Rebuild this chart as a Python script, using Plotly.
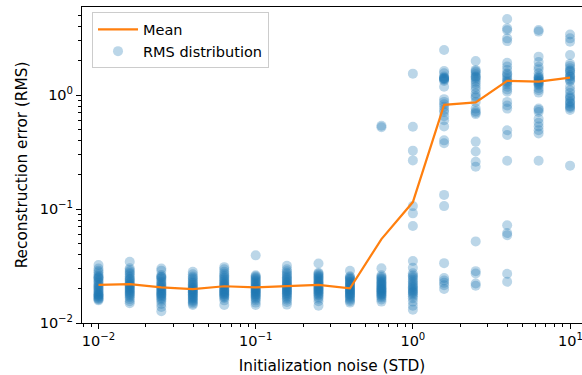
import plotly.graph_objects as go

# Initialization noise levels (standard deviation of the initial guess)
noise_std = [0.01, 0.0158, 0.0251, 0.0398, 0.0631, 0.1, 0.158, 0.251,
             0.398, 0.631, 1.0, 1.58, 2.51, 3.98, 6.31, 10.0]

# Mean reconstruction error at each noise level
mean_rms = [0.0216, 0.0219, 0.0205, 0.0198, 0.0210, 0.0205, 0.0211, 0.0216,
            0.0201, 0.0545, 0.115, 0.82, 0.86, 1.33, 1.31, 1.42]

# Per-run RMS errors, one list per noise level
rms_runs = [
    [0.0322, 0.0301, 0.0287, 0.0279, 0.0266, 0.0258, 0.0252, 0.0249, 0.0246, 0.0238,
     0.0231, 0.0226, 0.0219, 0.0214, 0.0209, 0.0205, 0.0201, 0.0196, 0.0191, 0.0187,
     0.0183, 0.0179, 0.0177, 0.0175, 0.0172, 0.0169, 0.0166, 0.0163, 0.0161, 0.0158],
    [0.0345, 0.0302, 0.0291, 0.0283, 0.0275, 0.0268, 0.0257, 0.0249, 0.0243, 0.0239,
     0.0233, 0.0228, 0.0222, 0.0218, 0.0214, 0.0211, 0.0207, 0.0203, 0.0199, 0.0196,
     0.0192, 0.0188, 0.0184, 0.0181, 0.0177, 0.0173, 0.0168, 0.0162, 0.0155, 0.0149],
    [0.0301, 0.0288, 0.0264, 0.0256, 0.0253, 0.0249, 0.0244, 0.0236, 0.0229, 0.0222,
     0.0217, 0.0212, 0.0208, 0.0204, 0.0201, 0.0197, 0.0193, 0.0189, 0.0186, 0.0182,
     0.0179, 0.0176, 0.0173, 0.0169, 0.0165, 0.0161, 0.0155, 0.0147, 0.0138, 0.0127],
    [0.0281, 0.0268, 0.0256, 0.0249, 0.0243, 0.0236, 0.0229, 0.0224, 0.0219, 0.0214,
     0.0209, 0.0205, 0.0202, 0.0198, 0.0195, 0.0192, 0.0189, 0.0186, 0.0183, 0.0179,
     0.0176, 0.0173, 0.0169, 0.0166, 0.0163, 0.0159, 0.0156, 0.0152, 0.0148, 0.0144],
    [0.0309, 0.0296, 0.0282, 0.0271, 0.0263, 0.0256, 0.0249, 0.0243, 0.0237, 0.0231,
     0.0226, 0.0221, 0.0217, 0.0213, 0.0209, 0.0205, 0.0201, 0.0197, 0.0194, 0.0191,
     0.0188, 0.0185, 0.0182, 0.0179, 0.0176, 0.0173, 0.0169, 0.0166, 0.0158, 0.0144],
    [0.0392, 0.0262, 0.0257, 0.0252, 0.0247, 0.0242, 0.0236, 0.0231, 0.0226, 0.0221,
     0.0216, 0.0212, 0.0208, 0.0204, 0.0201, 0.0198, 0.0195, 0.0192, 0.0189, 0.0186,
     0.0183, 0.0180, 0.0177, 0.0174, 0.0171, 0.0167, 0.0163, 0.0158, 0.0151, 0.0144],
    [0.0318, 0.0296, 0.0284, 0.0275, 0.0267, 0.0259, 0.0252, 0.0246, 0.0240, 0.0234,
     0.0229, 0.0224, 0.0219, 0.0215, 0.0211, 0.0207, 0.0203, 0.0199, 0.0196, 0.0192,
     0.0189, 0.0185, 0.0182, 0.0178, 0.0174, 0.0170, 0.0165, 0.0160, 0.0153, 0.0145],
    [0.0333, 0.0276, 0.0271, 0.0265, 0.0259, 0.0254, 0.0249, 0.0244, 0.0239, 0.0234,
     0.0229, 0.0225, 0.0221, 0.0217, 0.0213, 0.0209, 0.0206, 0.0202, 0.0199, 0.0196,
     0.0192, 0.0189, 0.0186, 0.0182, 0.0178, 0.0174, 0.0169, 0.0163, 0.0155, 0.0142],
    [0.0287, 0.0257, 0.0252, 0.0247, 0.0243, 0.0239, 0.0234, 0.0229, 0.0225, 0.0221,
     0.0217, 0.0213, 0.0209, 0.0206, 0.0202, 0.0199, 0.0196, 0.0193, 0.0190, 0.0187,
     0.0184, 0.0181, 0.0178, 0.0175, 0.0172, 0.0168, 0.0164, 0.0160, 0.0155, 0.0151],
    [0.538, 0.522, 0.0302, 0.0262, 0.0255, 0.0249, 0.0244, 0.0239, 0.0234, 0.0229,
     0.0225, 0.0221, 0.0217, 0.0213, 0.0209, 0.0205, 0.0202, 0.0199, 0.0196, 0.0193,
     0.0190, 0.0187, 0.0184, 0.0181, 0.0178, 0.0175, 0.0171, 0.0167, 0.0161, 0.0154],
    [1.54, 0.527, 0.325, 0.267, 0.106, 0.0916, 0.071, 0.035, 0.0305, 0.0273,
     0.0262, 0.0256, 0.0248, 0.0239, 0.0231, 0.0224, 0.0217, 0.0211, 0.0206, 0.0201,
     0.0196, 0.0191, 0.0187, 0.0183, 0.0178, 0.0172, 0.0165, 0.0154, 0.0142, 0.0131],
    [2.48, 1.62, 1.55, 1.45, 1.41, 1.38, 1.36, 1.33, 1.18, 0.92,
     0.87, 0.83, 0.79, 0.74, 0.71, 0.65, 0.60, 0.53, 0.40, 0.377,
     0.133, 0.106, 0.0335, 0.0248, 0.0236, 0.0225, 0.0214, 0.0199, 1.42, 1.39],
    [1.99, 1.66, 1.62, 1.58, 1.52, 1.46, 1.44, 1.41, 1.36, 1.31,
     1.25, 1.18, 1.12, 1.03, 0.98, 0.95, 0.87, 0.76, 0.72, 0.70,
     0.68, 0.39, 0.32, 0.26, 0.235, 0.052, 0.0285, 0.0272, 0.0222, 0.0212],
    [4.64, 3.84, 3.70, 3.14, 2.97, 1.92, 1.78, 1.66, 1.55, 1.52,
     1.47, 1.40, 1.35, 1.31, 1.29, 1.24, 1.18, 1.12, 1.07, 0.87,
     0.81, 0.76, 0.49, 0.446, 0.265, 0.072, 0.0615, 0.059, 0.027, 0.023],
    [3.72, 3.60, 2.17, 1.95, 1.77, 1.68, 1.55, 1.47, 1.43, 1.41,
     1.38, 1.36, 1.33, 1.31, 1.28, 1.26, 1.24, 1.21, 1.15, 1.10,
     1.05, 0.76, 0.74, 0.71, 0.62, 0.57, 0.53, 0.49, 0.46, 0.265],
    [3.40, 3.14, 2.93, 2.24, 1.88, 1.80, 1.72, 1.65, 1.62, 1.58,
     1.50, 1.46, 1.44, 1.38, 1.35, 1.32, 1.18, 1.10, 1.04, 0.98,
     0.95, 0.93, 0.88, 0.86, 0.84, 0.80, 0.79, 0.77, 0.74, 0.24],
]

x_ticks = [0.01, 0.1, 1]
x_ticktext = ["10<sup>−2</sup>", "10<sup>−1</sup>", "10<sup>0</sup>"]
# the last decade label runs past the right edge of the figure
x_edge_tick = 10
x_edge_ticktext = "10<sup>1</sup>"
y_ticks = [0.01, 0.1, 1]
y_ticktext = ["10<sup>−2</sup>", "10<sup>−1</sup>", "10<sup>0</sup>"]

x_minor = [m * 10 ** e for e in (-3, -2, -1, 0) for m in range(2, 10)]
y_minor = [m * 10 ** e for e in (-2, -1, 0) for m in range(2, 10)]

scatter_x = [s for s, runs in zip(noise_std, rms_runs) for _ in runs]
scatter_y = [v for runs in rms_runs for v in runs]

FONT = "DejaVu Sans"
BLUE = "#1f77b4"
ORANGE = "#ff7f0e"
TICK_SIZE = 14.5

fig = go.Figure()
fig.add_trace(go.Scatter(
    x=scatter_x, y=scatter_y, mode="markers", name="RMS distribution",
    marker=dict(color=BLUE, size=10, opacity=0.3, line=dict(width=0)),
))
fig.add_trace(go.Scatter(
    x=noise_std, y=mean_rms, mode="lines", name="Mean",
    line=dict(color=ORANGE, width=2.2),
))

axis_common = dict(
    type="log", showgrid=False, zeroline=False,
    ticks="outside", ticklen=5, tickwidth=1.1, tickcolor="black",
    showline=True, linecolor="black", linewidth=1.1,
    tickfont=dict(family=FONT, size=TICK_SIZE, color="black"),
    tickmode="array",
)

fig.update_layout(
    width=582, height=375,
    margin=dict(l=82, r=0, t=7, b=52),
    paper_bgcolor="white", plot_bgcolor="white",
    font=dict(family=FONT, color="black"),
    xaxis=dict(
        **axis_common, range=[-2.105, 1.076], mirror=True,
        tickvals=x_ticks + [x_edge_tick], ticktext=x_ticktext + [""],
        minor=dict(tickmode="array", tickvals=x_minor, ticks="outside",
                   ticklen=3, tickwidth=0.9, tickcolor="black", showgrid=False),
        title=dict(text="Initialization noise (STD)",
                   font=dict(family=FONT, size=15.3, color="black"), standoff=11),
    ),
    yaxis=dict(
        **axis_common, range=[-2, 0.772],
        tickvals=y_ticks, ticktext=y_ticktext,
        minor=dict(tickmode="array", tickvals=y_minor, ticks="outside",
                   ticklen=3, tickwidth=0.9, tickcolor="black", showgrid=False),
        title=dict(text="Reconstruction error (RMS)",
                   font=dict(family=FONT, size=15.3, color="black"), standoff=8),
    ),
    legend=dict(
        x=0.02, y=0.983, xanchor="left", yanchor="top",
        bgcolor="rgba(255,255,255,0.8)", bordercolor="#cccccc", borderwidth=1,
        font=dict(family=FONT, size=14.5, color="black"),
        traceorder="reversed", itemwidth=40,
    ),
    annotations=[dict(
        x=1, xref="x", y=0, yref="paper", yanchor="top", xanchor="center",
        yshift=-6, text=x_edge_ticktext, showarrow=False,
        font=dict(family=FONT, size=TICK_SIZE, color="black"),
    )],
    showlegend=True,
)

fig.write_html("out.html")
